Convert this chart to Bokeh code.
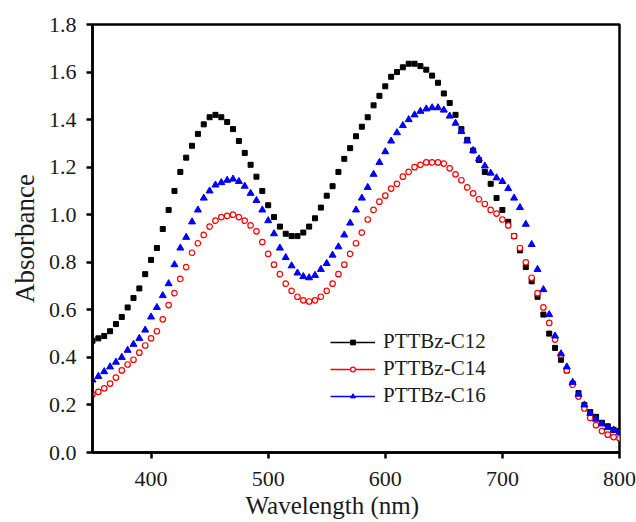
from bokeh.plotting import figure
from bokeh.models import (ColumnDataSource, Range1d, FixedTicker, PrintfTickFormatter,
                          Legend, LegendItem, Title)
from bokeh.embed import file_html
from bokeh.resources import INLINE

# ---------------- data ----------------
wavelength = list(range(350, 801, 5))

c12 = [0.47, 0.48, 0.49, 0.51, 0.54, 0.57, 0.61, 0.65, 0.69, 0.75,
       0.81, 0.86, 0.94, 1.02, 1.10, 1.18, 1.24, 1.29, 1.34, 1.38,
       1.41, 1.42, 1.41, 1.39, 1.36, 1.31, 1.26, 1.21, 1.16, 1.10,
       1.04, 0.99, 0.95, 0.92, 0.91, 0.91, 0.925, 0.95, 0.985, 1.03,
       1.08, 1.12, 1.18, 1.235, 1.28, 1.33, 1.37, 1.41, 1.46, 1.50,
       1.54, 1.58, 1.60, 1.62, 1.635, 1.635, 1.625, 1.61, 1.585, 1.555,
       1.51, 1.47, 1.42, 1.36, 1.315, 1.27, 1.23, 1.18, 1.13, 1.07,
       1.02, 0.97, 0.91, 0.85, 0.78, 0.72, 0.655, 0.58, 0.50, 0.44,
       0.39, 0.345, 0.29, 0.25, 0.20, 0.17, 0.15, 0.125, 0.11, 0.095,
       0.09]

c14 = [0.245, 0.255, 0.27, 0.29, 0.315, 0.345, 0.37, 0.39, 0.42, 0.45,
       0.48, 0.51, 0.56, 0.62, 0.67, 0.73, 0.78, 0.84, 0.88, 0.915,
       0.95, 0.975, 0.99, 0.995, 1.00, 0.99, 0.975, 0.955, 0.93, 0.885,
       0.835, 0.79, 0.75, 0.71, 0.68, 0.655, 0.64, 0.635, 0.64, 0.655,
       0.68, 0.71, 0.75, 0.79, 0.835, 0.88, 0.925, 0.98, 1.02, 1.055,
       1.08, 1.11, 1.13, 1.16, 1.18, 1.20, 1.21, 1.22, 1.22, 1.22,
       1.215, 1.195, 1.17, 1.145, 1.115, 1.09, 1.065, 1.045, 1.02, 1.005,
       0.98, 0.955, 0.91, 0.86, 0.80, 0.735, 0.67, 0.61, 0.545, 0.475,
       0.41, 0.345, 0.285, 0.235, 0.185, 0.145, 0.115, 0.09, 0.075, 0.065,
       0.06]

c16 = [0.305, 0.32, 0.34, 0.36, 0.38, 0.40, 0.43, 0.455, 0.48, 0.515,
       0.57, 0.61, 0.66, 0.71, 0.79, 0.86, 0.905, 0.97, 1.02, 1.07,
       1.10, 1.125, 1.135, 1.145, 1.15, 1.14, 1.12, 1.09, 1.06, 1.02,
       0.975, 0.92, 0.86, 0.82, 0.785, 0.755, 0.74, 0.735, 0.745, 0.77,
       0.795, 0.83, 0.865, 0.915, 0.965, 1.02, 1.07, 1.115, 1.17, 1.22,
       1.265, 1.31, 1.345, 1.375, 1.40, 1.42, 1.435, 1.445, 1.45, 1.45,
       1.44, 1.415, 1.385, 1.35, 1.31, 1.27, 1.235, 1.205, 1.175, 1.155,
       1.14, 1.11, 1.07, 1.03, 0.96, 0.875, 0.77, 0.685, 0.58, 0.49,
       0.415, 0.36, 0.295, 0.245, 0.20, 0.165, 0.14, 0.12, 0.105, 0.095,
       0.085]

series_names = ["PTTBz-C12", "PTTBz-C14", "PTTBz-C16"]
x_ticks = [400, 500, 600, 700, 800]
y_ticks = [0.0, 0.2, 0.4, 0.6, 0.8, 1.0, 1.2, 1.4, 1.6, 1.8]
x_title = "Wavelength (nm)"
y_title = "Absorbance"

FONT = "'Liberation Serif', 'Times New Roman', serif"
TXT = "#1a1a1a"

p = figure(width=636, height=522, output_backend="svg", toolbar_location=None,
           x_range=Range1d(350, 800), y_range=Range1d(0, 1.8))
p.min_border_left = 92
p.min_border_right = 17
p.min_border_top = 24
p.min_border_bottom = 70
p.grid.visible = False
p.outline_line_color = "black"
p.outline_line_width = 2.5
p.background_fill_color = "white"
p.border_fill_color = "white"

for ax in (p.xaxis[0], p.yaxis[0]):
    ax.axis_line_width = 2.5
    ax.major_tick_line_width = 2.5
    ax.major_tick_out = 6
    ax.major_tick_in = 0
    ax.minor_tick_line_color = None
    ax.major_label_text_font = FONT
    ax.major_label_text_font_size = "22px"
    ax.major_label_text_color = TXT
    ax.axis_label_text_font = FONT
    ax.axis_label_text_font_style = "normal"
    ax.axis_label_text_color = TXT

p.xaxis.ticker = FixedTicker(ticks=x_ticks)
p.yaxis.ticker = FixedTicker(ticks=y_ticks)
p.yaxis.formatter = PrintfTickFormatter(format="%.1f")
p.yaxis.axis_label = y_title
p.yaxis.axis_label_text_font_size = "27px"
p.xaxis.major_label_standoff = 13
p.yaxis.major_label_standoff = 10
p.yaxis.axis_label_standoff = 6

# x-axis title (sits slightly left of centre in the original)
p.add_layout(Title(text=x_title, align="left", offset=153, standoff=2,
                   text_font=FONT, text_font_size="25px", text_font_style="normal",
                   text_color=TXT), "below")

src = ColumnDataSource(data=dict(x=wavelength, c12=c12, c14=c14, c16=c16))

r12 = p.scatter("x", "c12", source=src, marker="square", size=5,
                fill_color="black", line_color="black")
r14 = p.scatter("x", "c14", source=src, marker="circle", size=5.5,
                fill_color="white", line_color="red", line_width=1.2)
r16 = p.scatter("x", "c16", source=src, marker="triangle", size=7,
                fill_color="blue", line_color="blue")

nan = float("nan")
legend_src = ColumnDataSource(data=dict(x=[nan, nan], y=[nan, nan]))
l12 = p.line("x", "y", source=legend_src, line_color="black", line_width=1.5)
l14 = p.line("x", "y", source=legend_src, line_color="red", line_width=1.5)
l16 = p.line("x", "y", source=legend_src, line_color="blue", line_width=1.5)

legend = Legend(items=[
    LegendItem(label=series_names[0], renderers=[l12, r12]),
    LegendItem(label=series_names[1], renderers=[l14, r14]),
    LegendItem(label=series_names[2], renderers=[l16, r16]),
], location=(238, 44))
legend.label_text_font = FONT
legend.label_text_font_size = "21px"
legend.label_text_color = TXT
legend.glyph_width = 45
legend.glyph_height = 12
legend.label_height = 12
legend.label_standoff = 8
legend.spacing = 2
legend.padding = 0
legend.margin = 0
legend.border_line_color = None
legend.background_fill_alpha = 0
p.add_layout(legend, "center")

open("out.html", "w").write(file_html(p, INLINE))
